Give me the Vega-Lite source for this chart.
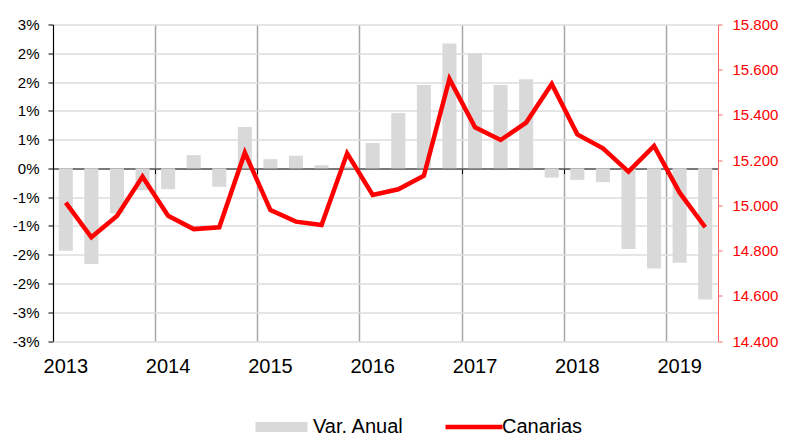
{
  "$schema": "https://vega.github.io/schema/vega-lite/v6.json",
  "width": 665,
  "height": 316.5,
  "autosize": {"type": "none"},
  "padding": {"left": 53, "top": 24.5, "right": 67, "bottom": 95},
  "background": "white",
  "config": {"view": {"stroke": null}, "font": "Liberation Sans"},
  "data": {
    "values": [
      {"q": "2013-T1", "var": -1.43, "can": 15012},
      {"q": "2013-T2", "var": -1.66, "can": 14859},
      {"q": "2013-T3", "var": -0.78, "can": 14953},
      {"q": "2013-T4", "var": -0.38, "can": 15127},
      {"q": "2014-T1", "var": -0.36, "can": 14954},
      {"q": "2014-T2", "var": 0.23, "can": 14895},
      {"q": "2014-T3", "var": -0.32, "can": 14903},
      {"q": "2014-T4", "var": 0.72, "can": 15233},
      {"q": "2015-T1", "var": 0.16, "can": 14979},
      {"q": "2015-T2", "var": 0.22, "can": 14928},
      {"q": "2015-T3", "var": 0.055, "can": 14913},
      {"q": "2015-T4", "var": 0.03, "can": 15230},
      {"q": "2016-T1", "var": 0.44, "can": 15046},
      {"q": "2016-T2", "var": 0.96, "can": 15071},
      {"q": "2016-T3", "var": 1.45, "can": 15131},
      {"q": "2016-T4", "var": 2.17, "can": 15559},
      {"q": "2017-T1", "var": 2.0, "can": 15345},
      {"q": "2017-T2", "var": 1.45, "can": 15289},
      {"q": "2017-T3", "var": 1.55, "can": 15366},
      {"q": "2017-T4", "var": -0.16, "can": 15537},
      {"q": "2018-T1", "var": -0.2, "can": 15314},
      {"q": "2018-T2", "var": -0.24, "can": 15252},
      {"q": "2018-T3", "var": -1.4, "can": 15149},
      {"q": "2018-T4", "var": -1.74, "can": 15263},
      {"q": "2019-T1", "var": -1.64, "can": 15056},
      {"q": "2019-T2", "var": -2.28, "can": 14903}
    ]
  },
  "encoding": {
    "x": {
      "field": "q", "type": "ordinal", "sort": null, "title": null,
      "scale": {"paddingInner": 0, "paddingOuter": 0},
      "axis": {
        "orient": "bottom", "offset": -172.5,
        "values": ["2013-T1", "2014-T1", "2015-T1", "2016-T1", "2017-T1", "2018-T1", "2019-T1"],
        "bandPosition": 0,
        "labelExpr": "slice(datum.value, 0, 4)",
        "labelOffset": 0, "labelAngle": 0, "labelFontSize": 20, "labelColor": "#000000",
        "labelPadding": 183,
        "domainColor": "#555555", "domainWidth": 1.5,
        "tickColor": "#000000", "tickSize": 5, "tickWidth": 1,
        "grid": true, "gridColor": "#a6a6a6", "gridWidth": 1.5
      }
    }
  },
  "layer": [
    {
      "mark": {"type": "bar", "width": {"band": 0.55}},
      "encoding": {
        "y": {
          "field": "var", "type": "quantitative", "title": null,
          "scale": {"domain": [-3, 2.5], "nice": false, "zero": false},
          "axis": {
            "orient": "left",
            "values": [-3, -2.5, -2, -1.5, -1, -0.5, 0, 0.5, 1, 1.5, 2, 2.5],
            "labelExpr": "(datum.value < 0 ? '-' : '') + round(abs(datum.value)) + '%'",
            "labelFontSize": 15, "labelColor": "#000000", "labelPadding": 9,
            "tickColor": "#000000", "tickSize": 5, "domainColor": "#000000", "domainWidth": 1,
            "grid": true, "gridColor": "#dcdcdc", "gridWidth": 1.5
          }
        },
        "fill": {
          "datum": "Var. Anual",
          "scale": {"range": ["#d9d9d9"]},
          "legend": {
            "orient": "none", "legendX": 218.5, "legendY": 392.5, "title": null,
            "symbolType": "M-5.2,-1H5.2V1H-5.2Z", "symbolSize": 100,
            "symbolStrokeWidth": 0, "symbolOpacity": 1,
            "labelFontSize": 20, "labelColor": "#000000", "labelOffset": 21.5
          }
        }
      }
    },
    {
      "mark": {"type": "line", "strokeWidth": 4.5},
      "encoding": {
        "y": {
          "field": "can", "type": "quantitative", "title": null,
          "scale": {"domain": [14400, 15800], "nice": false, "zero": false},
          "axis": {
            "orient": "right",
            "values": [14400, 14600, 14800, 15000, 15200, 15400, 15600, 15800],
            "labelExpr": "replace(format(datum.value, ','), ',', '.')",
            "labelFontSize": 15, "labelColor": "#ff0000", "labelPadding": 10,
            "tickColor": "#ff6060", "tickSize": 4, "domainColor": "#ff6060", "domainWidth": 1,
            "grid": false
          }
        },
        "stroke": {
          "datum": "Canarias",
          "scale": {"range": ["#ff0000"]},
          "legend": {
            "orient": "none", "legendX": 411, "legendY": 392.5, "title": null,
            "symbolType": "M-5.7,0H5.7", "symbolSize": 100, "symbolStrokeWidth": 4.5,
            "labelFontSize": 20, "labelColor": "#000000", "labelOffset": 18
          }
        }
      }
    }
  ],
  "resolve": {"scale": {"y": "independent"}}
}
